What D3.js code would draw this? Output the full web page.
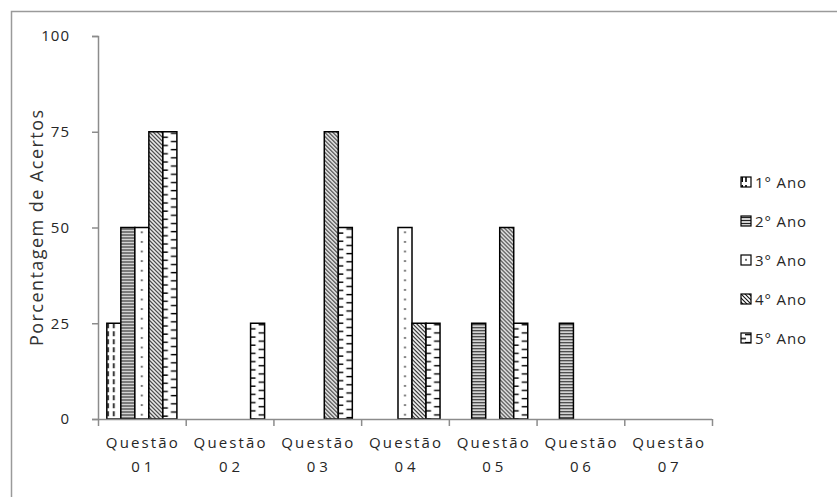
<!DOCTYPE html>
<html><head><meta charset="utf-8">
<script src="https://cdn.jsdelivr.net/npm/d3@7"></script>
<style>body{margin:0;background:#fff}svg{display:block}</style>
</head><body>
<svg id="chart" width="837" height="497"></svg>
<script>
const categories = ["Questão 01","Questão 02","Questão 03","Questão 04","Questão 05","Questão 06","Questão 07"];
const seriesNames = ["1° Ano","2° Ano","3° Ano","4° Ano","5° Ano"];
const ano1 = [25,0,0,0,0,0,0];
const ano2 = [50,0,0,0,25,25,0];
const ano3 = [50,0,0,50,0,0,0];
const ano4 = [75,0,75,25,50,0,0];
const ano5 = [75,25,50,25,25,0,0];
const yTicks = [0,25,50,75,100];
const seriesValues = [ano1,ano2,ano3,ano4,ano5];

const svg = d3.select("#chart");
const defs = svg.append("defs");
const font = "'Open Sans', 'Noto Sans', sans-serif";
const textColor = "#262626";
const axisColor = "#8c8c8c";

// outer frame
svg.append("rect").attr("x",11.5).attr("y",11.5).attr("width",840).attr("height",500)
  .attr("fill","none").attr("stroke","#9a9a9a").attr("stroke-width",1.5);

const x0 = d3.scaleBand().domain(categories).range([98,712]).paddingInner(0).paddingOuter(0);
const x1 = d3.scaleBand().domain(d3.range(seriesNames.length)).range([0,x0.bandwidth()]).paddingInner(0).paddingOuter(0.63);
const y = d3.scaleLinear().domain([0,100]).range([419,36]);

function drawPattern(p, s, w) {
  if (s===0) { // dashed vertical
    p.attr("width",w).attr("height",8);
    p.append("rect").attr("width",w).attr("height",8).attr("fill","#fff");
    [1.2, w/2].forEach(xx=>p.append("line").attr("x1",xx).attr("x2",xx).attr("y1",0).attr("y2",5).attr("stroke","#000").attr("stroke-width",1.6));
  } else if (s===1) { // narrow horizontal
    p.attr("width",w).attr("height",3);
    p.append("rect").attr("width",w).attr("height",3).attr("fill","#fff");
    p.append("line").attr("x1",0).attr("x2",w).attr("y1",1.5).attr("y2",1.5).attr("stroke","#222").attr("stroke-width",1.4);
  } else if (s===2) { // sparse dots
    p.attr("width",w).attr("height",9.6);
    p.append("rect").attr("width",w).attr("height",9.6).attr("fill","#fff");
    p.append("rect").attr("x",w/2-0.8).attr("y",4).attr("width",1.6).attr("height",1.6).attr("fill","#222");
  } else if (s===3) { // wide downward diagonal
    p.attr("width",4).attr("height",4);
    p.append("rect").attr("width",4).attr("height",4).attr("fill","#fff");
    p.append("path").attr("d","M-1,-1 L5,5 M-1,3 L1,5 M3,-1 L5,1").attr("stroke","#111").attr("stroke-width",1.1);
  } else { // dashed horizontal
    p.attr("width",w).attr("height",8.2);
    p.append("rect").attr("width",w).attr("height",8.2).attr("fill","#fff");
    p.append("line").attr("x1",w-6).attr("x2",w).attr("y1",1.5).attr("y2",1.5).attr("stroke","#000").attr("stroke-width",1.4);
    p.append("line").attr("x1",0).attr("x2",5).attr("y1",5.6).attr("y2",5.6).attr("stroke","#000").attr("stroke-width",1.4);
  }
}

// y axis
const yAxis = svg.append("g").attr("transform","translate(98,0)")
  .call(d3.axisLeft(y).tickValues(yTicks).tickSize(6).tickPadding(22).tickFormat(d3.format("d")));
yAxis.select(".domain").attr("stroke",axisColor).attr("stroke-width",1.5).attr("d","M-6,36.5H0.5V419.5H-6");
yAxis.selectAll(".tick line").attr("stroke",axisColor).attr("stroke-width",1.5);
yAxis.selectAll(".tick text").attr("font-family",font).attr("font-size",15).attr("letter-spacing","1px").attr("fill",textColor);

// bars
const bw = x1.bandwidth();
const barData = [];
seriesValues.forEach((vals,s)=>vals.forEach((v,i)=>{ if (v>0) barData.push({s,i,v}); }));
barData.forEach((d,k)=>{
  const bx = x0(categories[d.i]) + x1(d.s);
  const p = defs.append("pattern").attr("id","pb"+k).attr("patternUnits","userSpaceOnUse")
    .attr("x",bx).attr("y",y(d.v));
  drawPattern(p,d.s,bw);
});
svg.append("g").selectAll("rect").data(barData).join("rect")
  .attr("x",d=>x0(categories[d.i]) + x1(d.s))
  .attr("y",d=>y(d.v))
  .attr("width",bw)
  .attr("height",d=>y(0)-y(d.v))
  .attr("fill",(d,k)=>"url(#pb"+k+")")
  .attr("stroke","#000").attr("stroke-width",1.5);

// x axis
const xAxis = svg.append("g").attr("transform","translate(0,419)");
xAxis.append("line").attr("x1",98).attr("x2",712).attr("y1",0.5).attr("y2",0.5).attr("stroke",axisColor).attr("stroke-width",1.5);
const bounds = categories.map(c=>x0(c)).concat([x0.range()[1]]);
xAxis.selectAll(".xt").data(bounds).join("line").attr("class","xt")
  .attr("x1",d=>d+0.5).attr("x2",d=>d+0.5).attr("y1",0).attr("y2",7)
  .attr("stroke",axisColor).attr("stroke-width",1.5);
categories.forEach(c=>{
  const parts = c.split(" ");
  const cx = x0(c)+x0.bandwidth()/2;
  xAxis.append("text").attr("x",cx).attr("y",29).attr("text-anchor","middle")
    .attr("font-family",font).attr("font-size",15).attr("fill",textColor)
    .attr("textLength",72).attr("lengthAdjust","spacing").text(parts[0]);
  xAxis.append("text").attr("x",cx).attr("y",53).attr("text-anchor","middle")
    .attr("font-family",font).attr("font-size",15).attr("fill",textColor)
    .attr("textLength",21).attr("lengthAdjust","spacing").text(parts[1]);
});

// y title
svg.append("text").attr("transform","translate(43,228) rotate(-90)").attr("text-anchor","middle")
  .attr("font-family",font).attr("font-size",18).attr("fill","#333")
  .attr("textLength",236).attr("lengthAdjust","spacing").text("Porcentagem de Acertos");

// legend
const legY = d3.scalePoint().domain(seriesNames).range([182,338]);
const leg = svg.append("g");
seriesNames.forEach((n,s)=>{
  const ly = legY(n);
  const p = defs.append("pattern").attr("id","pl"+s).attr("patternUnits","userSpaceOnUse")
    .attr("x",741).attr("y",ly-5);
  drawPattern(p,s,10);
  leg.append("rect").attr("x",741).attr("y",ly-5).attr("width",10).attr("height",10)
    .attr("fill","url(#pl"+s+")").attr("stroke","#000").attr("stroke-width",1.2);
  leg.append("text").attr("x",755).attr("y",ly+5.5).attr("font-family",font).attr("font-size",15)
    .attr("fill",textColor).attr("textLength",51).attr("lengthAdjust","spacing").text(n);
});
</script>
</body></html>
